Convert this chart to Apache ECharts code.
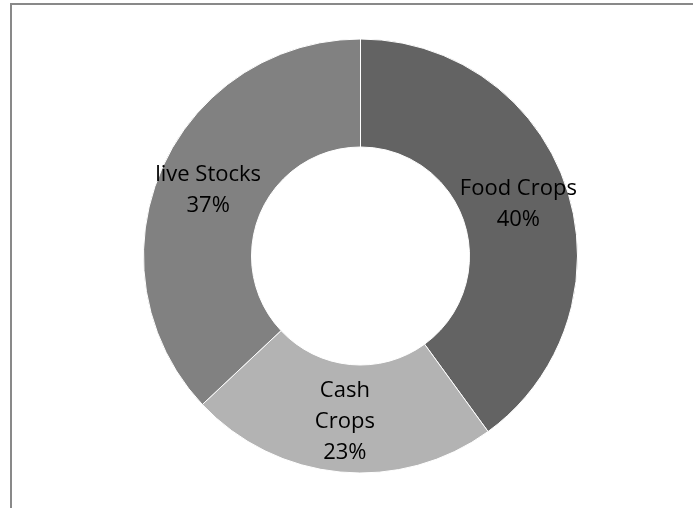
<!DOCTYPE html>
<html>
<head>
<meta charset="utf-8">
<script src="https://cdn.jsdelivr.net/npm/echarts@6/dist/echarts.min.js"></script>
<style>
  html, body { margin: 0; padding: 0; background: #fff; }
  #chart { width: 693px; height: 508px; }
</style>
</head>
<body>
<div id="chart"></div>
<script>
// Share of farm activity by type
const categories = ['Food Crops', 'Cash Crops', 'live Stocks'];
const values = [40, 23, 37];
const sliceColors = ['#636363', '#b3b3b3', '#818181'];
// slices too narrow for the name on one line
const wrappedNames = ['Cash Crops'];

const chart = echarts.init(document.getElementById('chart'), null, { renderer: 'canvas' });

const data = categories.map((name, i) => ({
  name: name,
  value: values[i],
  itemStyle: { color: sliceColors[i] }
}));

chart.setOption({
  animation: false,
  backgroundColor: '#ffffff',
  graphic: [
    { type: 'rect', shape: { x: 10, y: 3, width: 683, height: 2 }, style: { fill: '#898989' } },
    { type: 'rect', shape: { x: 10, y: 3, width: 2, height: 505 }, style: { fill: '#898989' } }
  ],
  series: [{
    type: 'pie',
    center: [360.5, 256],
    radius: [109, 217],
    startAngle: 90,
    clockwise: true,
    silent: true,
    itemStyle: { borderColor: '#ffffff', borderWidth: 1 },
    label: {
      show: true,
      position: 'inside',
      formatter: function (p) {
        const name = wrappedNames.indexOf(p.name) >= 0 ? p.name.split(' ').join('\n') : p.name;
        return name + '\n' + p.percent + '%';
      },
      fontFamily: 'Open Sans',
      fontSize: 22,
      lineHeight: 31,
      color: '#000000'
    },
    labelLine: { show: false },
    data: data
  }]
});
</script>
</body>
</html>
